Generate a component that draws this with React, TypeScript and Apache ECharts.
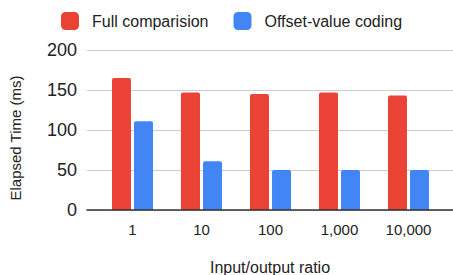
import React, { useEffect, useRef } from "react";
import * as echarts from "echarts";

const categories = ["1", "10", "100", "1,000", "10,000"];
const fullComparison = [165, 147, 145, 147, 143];
const offsetValueCoding = [111, 61, 50, 50, 50];
const seriesNames = ["Full comparision", "Offset-value coding"];
const yTitle = "Elapsed Time (ms)";
const xTitle = "Input/output ratio";

const FONT = "'Liberation Sans', Arial, sans-serif";

export default function App() {
  const ref = useRef<HTMLDivElement>(null);
  useEffect(() => {
    if (!ref.current) return;
    const chart = echarts.init(ref.current, undefined, { renderer: "svg" });
    chart.setOption({
      animation: false,
      textStyle: { fontFamily: FONT },
      color: ["#EA4335", "#4285F4"],
      legend: {
        left: 61,
        top: 12,
        padding: 0,
        itemWidth: 18,
        itemHeight: 18,
        itemGap: 25,
        icon: "roundRect",
        textStyle: { fontSize: 16, color: "#222", fontFamily: FONT, padding: [0, 0, 0, 8] },
        data: seriesNames,
      },
      grid: [
        { left: 87, right: 0, top: 50, bottom: 65, outerBoundsMode: "none", containLabel: false },
        { left: 98, right: 10, top: 50, bottom: 65, outerBoundsMode: "none", containLabel: false },
      ],
      xAxis: [
        {
          gridIndex: 0,
          type: "value",
          min: 0,
          max: 1,
          z: 5,
          axisLine: { show: true, lineStyle: { color: "#333", width: 1.5 } },
          axisTick: { show: false },
          axisLabel: { show: false },
          splitLine: { show: false },
          name: xTitle,
          nameLocation: "middle",
          nameGap: 49,
          nameTextStyle: { fontSize: 16, color: "#222", fontFamily: FONT },
        },
        {
          gridIndex: 1,
          type: "category",
          data: categories,
          axisLine: { show: false },
          axisTick: { show: false },
          axisLabel: { fontSize: 15, color: "#222", margin: 12, fontFamily: FONT },
        },
      ],
      yAxis: [
        {
          gridIndex: 0,
          type: "value",
          min: 0,
          max: 200,
          interval: 50,
          axisLine: { show: false },
          axisTick: { show: false },
          axisLabel: { fontSize: 18, color: "#222", margin: 10, fontFamily: FONT },
          splitLine: { show: true, lineStyle: { color: "#ccc", width: 1 } },
        },
        {
          gridIndex: 1,
          type: "value",
          min: 0,
          max: 200,
          show: false,
          splitLine: { show: false },
        },
      ],
      graphic: [
        {
          type: "text",
          x: 15,
          y: 138,
          rotation: Math.PI / 2,
          style: {
            text: yTitle,
            fontSize: 15,
            fill: "#222",
            fontFamily: FONT,
            align: "center",
            verticalAlign: "middle",
          },
        },
      ],
      series: [
        {
          name: seriesNames[0],
          type: "bar",
          xAxisIndex: 1,
          yAxisIndex: 1,
          data: fullComparison,
          barWidth: 19,
          barGap: "16%",
          itemStyle: { borderRadius: [2, 2, 0, 0] },
        },
        {
          name: seriesNames[1],
          type: "bar",
          xAxisIndex: 1,
          yAxisIndex: 1,
          data: offsetValueCoding,
          barWidth: 19,
          barGap: "16%",
          itemStyle: { borderRadius: [2, 2, 0, 0] },
        },
      ],
    });
    return () => chart.dispose();
  }, []);
  return <div ref={ref} style={{ width: 453, height: 275, position: "absolute", left: 0, top: 0 }} />;
}
